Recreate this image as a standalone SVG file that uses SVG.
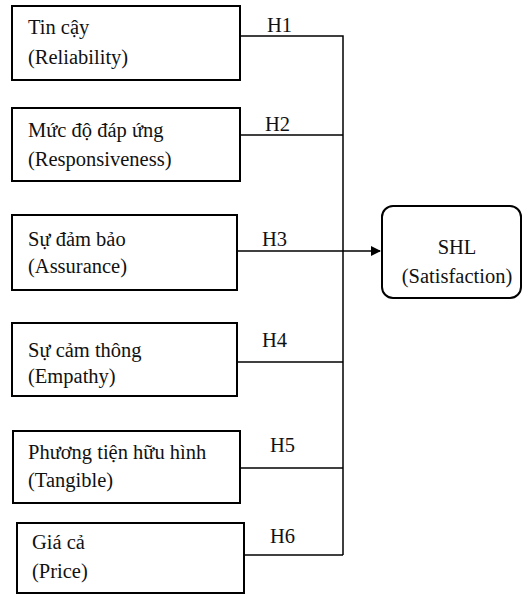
<svg xmlns="http://www.w3.org/2000/svg" width="529" height="595" viewBox="0 0 529 595">
<defs>
<style>
.box{fill:#fff;stroke:#000;stroke-width:2}
.t{font-family:"Liberation Serif","DejaVu Serif",serif;font-size:20.5px;fill:#111}
.ln{fill:none;stroke:#000;stroke-width:1.5}
</style>
<marker id="arr" markerWidth="10" markerHeight="10" refX="9" refY="5" orient="auto" markerUnits="userSpaceOnUse">
<path d="M0,0 L10,5 L0,10 z" fill="#000"/>
</marker>
</defs>
<rect width="529" height="595" fill="#fff"/>
<g id="connectors">
<path class="ln" d="M240,36 H343 V555"/>
<path class="ln" d="M240,135 H343"/>
<path class="ln" d="M237,251 H380" marker-end="url(#arr)"/>
<path class="ln" d="M237,362 H343"/>
<path class="ln" d="M240,468 H343"/>
<path class="ln" d="M244,555 H343"/>
<text class="t" x="267" y="32">H1</text>
<text class="t" x="265" y="131">H2</text>
<text class="t" x="262" y="246">H3</text>
<text class="t" x="262" y="347">H4</text>
<text class="t" x="270" y="452">H5</text>
<text class="t" x="270" y="543">H6</text>
</g>
<g id="n1"><rect class="box" x="12" y="6" width="228" height="74"/>
<text class="t" x="28" y="34">Tin cậy</text><text class="t" x="28" y="64">(Reliability)</text></g>
<g id="n2"><rect class="box" x="12" y="108" width="228" height="73"/>
<text class="t" x="28" y="137">Mức độ đáp ứng</text><text class="t" x="28" y="166">(Responsiveness)</text></g>
<g id="n3"><rect class="box" x="12" y="215" width="225" height="75"/>
<text class="t" x="28" y="246">Sự đảm bảo</text><text class="t" x="28" y="273">(Assurance)</text></g>
<g id="n4"><rect class="box" x="12" y="323" width="225" height="73"/>
<text class="t" x="28" y="357">Sự cảm thông</text><text class="t" x="28" y="383">(Empathy)</text></g>
<g id="n5"><rect class="box" x="13" y="431" width="227" height="72"/>
<text class="t" x="28" y="459">Phương tiện hữu hình</text><text class="t" x="28" y="487">(Tangible)</text></g>
<g id="n6"><rect class="box" x="17" y="523" width="227" height="70"/>
<text class="t" x="32" y="549">Giá cả</text><text class="t" x="32" y="578">(Price)</text></g>
<g id="shl"><rect class="box" x="382" y="206" width="139" height="92" rx="11"/>
<text class="t" x="457" y="254" text-anchor="middle">SHL</text><text class="t" x="457" y="283" text-anchor="middle">(Satisfaction)</text></g>
</svg>
